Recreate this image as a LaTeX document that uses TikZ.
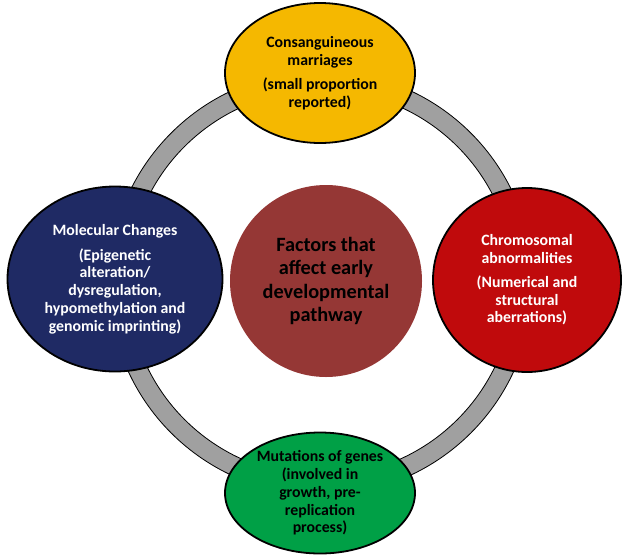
\documentclass[tikz,border=0pt]{standalone}
\usepackage{fontspec}
\setmainfont{Carlito}
\usetikzlibrary{shapes.geometric}
\definecolor{ringgray}{HTML}{A0A0A0}
\definecolor{sunyellow}{HTML}{F5B800}
\definecolor{navyblue}{HTML}{1F2A64}
\definecolor{deepred}{HTML}{C00A0C}
\definecolor{leafgreen}{HTML}{00A046}
\definecolor{hubred}{HTML}{953735}
\tikzset{
  factor/.style={ellipse, draw=black, line width=1.8pt, inner sep=0pt,
    align=center, font=\bfseries\fontsize{15.8}{17.8}\selectfont},
  hub/.style={circle, inner sep=0pt, minimum size=192pt, fill=hubred,
    align=center, font=\bfseries\fontsize{20.3}{23.3}\selectfont},
}
\begin{document}
\begin{tikzpicture}[x=1pt,y=-1pt]
\useasboundingbox (0,0) rectangle (623,555);
% grey ring linking the four factors
\fill[ringgray, draw=black, line width=0.8pt, even odd rule]
  (321,283) circle[radius=212] (321,283) circle[radius=193];
% central theme
\node[hub] (hub) at (326,281) {Factors that\\affect early\\developmental\\pathway};
% surrounding factors
\node[factor, fill=sunyellow, minimum width=190pt, minimum height=140pt] (consang) at (320,73)
  {Consanguineous\\marriages\\[6pt](small proportion\\reported)};
\node[factor, fill=navyblue, text=white, minimum width=215pt, minimum height=185pt] (molec) at (115,279)
  {Molecular Changes\\[7pt](Epigenetic\\alteration/\\dysregulation,\\hypomethylation and\\genomic imprinting)};
\node[factor, fill=deepred, text=white, minimum width=188pt, minimum height=184pt] (chrom) at (527,280)
  {Chromosomal\\abnormalities\\[6pt](Numerical and\\structural\\aberrations)};
\node[factor, fill=leafgreen, minimum width=190pt, minimum height=121pt] (mutat) at (320,493)
  {Mutations of genes\\(involved in\\growth, pre-\\replication\\process)};
\end{tikzpicture}
\end{document}
